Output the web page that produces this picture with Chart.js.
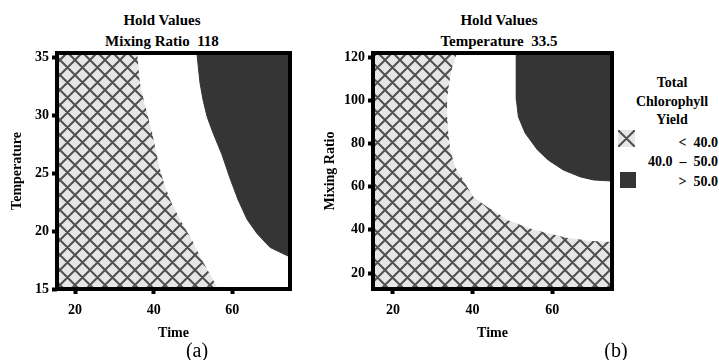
<!DOCTYPE html>
<html>
<head>
<meta charset="utf-8">
<title>Total Chlorophyll Yield - hold value contours</title>
<script src="https://cdn.jsdelivr.net/npm/chart.js@4.4.1/dist/chart.umd.min.js"></script>
<style>
  html, body { margin: 0; padding: 0; background: #fff; }
  body {
    position: relative; width: 719px; height: 360px; overflow: hidden;
    font-family: 'Liberation Serif', 'Times New Roman', serif; color: #000;
  }
  canvas { position: absolute; top: 0; }
  #chartA { left: 0; }
  #chartB { left: 310px; }
  .lbl {
    position: absolute; font-weight: bold; font-size: 14px; line-height: 16px;
    white-space: nowrap; transform: translate(-50%, -50%);
  }
  .head { font-size: 15px; }
  .legend { right: 1px; transform: translate(0, -50%); }
  .dash { margin: 0 7px; }
  .panel {
    position: absolute; font-size: 20px; line-height: 22px;
    white-space: nowrap; transform: translate(-50%, -50%);
  }
  #swatchLow { left: 618px; top: 130px; }
  #swatchHigh { position: absolute; left: 620px; top: 172px; width: 16px; height: 16px; background: #353535; }
</style>
</head>
<body>
<div class="lbl head" style="left:162px;top:20px">Hold Values</div>
<div class="lbl head" style="left:162px;top:41px">Mixing Ratio&nbsp; 118</div>
<div class="lbl head" style="left:499px;top:20px">Hold Values</div>
<div class="lbl head" style="left:499px;top:41px">Temperature&nbsp; 33.5</div>

<canvas id="chartA" width="300" height="345"></canvas>
<canvas id="chartB" width="305" height="345"></canvas>

<div class="lbl" style="left:672px;top:83px">Total</div>
<div class="lbl" style="left:672px;top:102px">Chlorophyll</div>
<div class="lbl" style="left:672px;top:120px">Yield</div>
<canvas id="swatchLow" width="17" height="17"></canvas>
<div class="lbl legend" style="top:143px">&lt;&nbsp; 40.0</div>
<div class="lbl legend" style="top:162px">40.0<span class="dash">&ndash;</span>50.0</div>
<div id="swatchHigh"></div>
<div class="lbl legend" style="top:182px">&gt;&nbsp; 50.0</div>

<div class="panel" style="left:197px;top:350px">(a)</div>
<div class="panel" style="left:616px;top:350px">(b)</div>

<script>
(function () {
    'use strict';

    // -----------------------------------------------------------------------
    // Data
    // -----------------------------------------------------------------------
    const TIME_TICKS = [20, 40, 60];
    const TEMP_TICKS = [15, 20, 25, 30, 35];
    const MIX_TICKS  = [20, 40, 60, 80, 100, 120];

    // (a) Mixing Ratio held at 118 -- edge of the "< 40.0" region
    const A_LOW_TIME = [15.4, 35.8, 36.5, 37.5, 39.6, 41.4, 42.4, 44.2, 46.7, 49.8, 52.3, 55.1, 56.4];
    const A_LOW_TEMP = [35.4, 35.4, 32.8, 31.3, 28.5, 25.6, 24.4, 22.7, 21.0, 19.2, 17.5, 15.8, 15.0];
    // (a) edge of the "> 50.0" region
    const A_HIGH_TIME = [51.0, 51.8, 52.6, 53.6, 55.1, 57.4, 59.4, 61.5, 63.8, 66.3, 69.6, 73.9, 74.7];
    const A_HIGH_TEMP = [35.4, 32.8, 31.3, 29.9, 28.5, 26.6, 24.6, 22.7, 21.0, 19.8, 18.6, 17.9, 17.8];

    // (b) Temperature held at 33.5 -- edge of the "< 40.0" region
    const B_LOW_TIME = [15.0, 36.1, 34.9, 34.1, 33.6, 33.6, 33.9, 34.4, 35.6, 37.6, 40.2, 43.7, 46.2, 48.7, 55.3, 63.8, 70.1, 75.0];
    const B_LOW_MIX  = [121.9, 121.9, 115.4, 108.0, 100.1, 92.3, 84.8, 77.0, 69.1, 63.1, 55.2, 50.6, 47.8, 44.6, 40.0, 36.2, 34.8, 34.4];
    // (b) edge of the "> 50.0" region
    const B_HIGH_TIME = [51.0, 51.0, 51.0, 51.5, 53.2, 56.3, 59.0, 62.8, 67.1, 70.4, 75.0];
    const B_HIGH_MIX  = [121.9, 108.0, 100.1, 92.3, 84.8, 77.0, 72.3, 67.7, 64.5, 63.1, 62.6];

    // -----------------------------------------------------------------------
    // Styling
    // -----------------------------------------------------------------------
    const HATCH_BG   = '#e6e6e6';
    const HATCH_LINE = '#505050';
    const HATCH_STEP = 15;
    const DARK       = '#353535';
    const CANVAS_H   = 345;
    const PLOT_TOP   = 53;
    const PLOT_BOTTOM = 289;

    Chart.defaults.font.family = "'Liberation Serif', 'Times New Roman', serif";
    Chart.defaults.font.size = 14;
    Chart.defaults.font.weight = 'bold';
    Chart.defaults.color = '#000';

    function drawHatch(g, w, h, step) {
        g.fillStyle = HATCH_BG;
        g.fillRect(0, 0, w, h);
        g.strokeStyle = HATCH_LINE;
        g.lineWidth = 2;
        g.beginPath();
        for (let k = -2; k <= Math.ceil(w / step) + 1; k++) {
            g.moveTo(k * step, 0);     g.lineTo(k * step + h, h);
            g.moveTo(k * step + h, 0); g.lineTo(k * step, h);
        }
        g.stroke();
    }

    function hatchPattern() {
        const c = document.createElement('canvas');
        c.width = HATCH_STEP; c.height = HATCH_STEP;
        const g = c.getContext('2d');
        drawHatch(g, HATCH_STEP, HATCH_STEP, HATCH_STEP);
        return g.createPattern(c, 'repeat');
    }

    const HATCH = hatchPattern();

    // thick black frame round the plot area
    const framePlugin = {
        id: 'frame',
        afterDatasetsDraw(chart) {
            const a = chart.chartArea;
            const ctx = chart.ctx;
            ctx.save();
            ctx.lineWidth = 4;
            ctx.strokeStyle = '#000';
            ctx.strokeRect(a.left, a.top, a.right - a.left, a.bottom - a.top);
            ctx.restore();
        }
    };

    function points(xs, ys) {
        return xs.map(function (x, i) { return { x: x, y: ys[i] }; });
    }

    const tickGrid = {
        drawOnChartArea: false, drawTicks: true,
        tickLength: 5, tickWidth: 4, tickColor: '#000'
    };

    function contourChart(id, spec) {
        return new Chart(document.getElementById(id), {
            type: 'line',
            data: {
                datasets: [
                    {
                        label: '< 40.0',
                        data: points(spec.lowX, spec.lowY),
                        fill: 'start',
                        backgroundColor: HATCH,
                        borderColor: 'rgba(0,0,0,0)',
                        borderWidth: 0,
                        pointRadius: 0
                    },
                    {
                        label: '> 50.0',
                        data: points(spec.highX, spec.highY),
                        fill: 'end',
                        backgroundColor: DARK,
                        borderColor: DARK,
                        borderWidth: 1,
                        pointRadius: 0
                    }
                ]
            },
            options: {
                responsive: false,
                animation: false,
                events: [],
                layout: { padding: { top: PLOT_TOP, right: spec.padRight, left: 0, bottom: 0 } },
                plugins: { legend: { display: false }, tooltip: { enabled: false } },
                scales: {
                    x: {
                        type: 'linear',
                        min: spec.xMin, max: spec.xMax,
                        afterBuildTicks: function (s) { s.ticks = TIME_TICKS.map(function (v) { return { value: v }; }); },
                        afterFit: function (s) { s.height = CANVAS_H - PLOT_BOTTOM; },
                        grid: tickGrid,
                        border: { display: false },
                        ticks: { padding: 8, maxRotation: 0 },
                        title: { display: true, text: 'Time', padding: { top: 0, bottom: 3 } }
                    },
                    y: {
                        type: 'linear',
                        min: spec.yMin, max: spec.yMax,
                        afterBuildTicks: function (s) { s.ticks = spec.yTicks.map(function (v) { return { value: v }; }); },
                        afterFit: function (s) { s.width = spec.yWidth; },
                        grid: tickGrid,
                        border: { display: false },
                        ticks: { padding: 3 },
                        title: { display: true, text: spec.yTitle, padding: { top: spec.yTitlePad, bottom: 0 } }
                    }
                }
            },
            plugins: [framePlugin]
        });
    }

    // -----------------------------------------------------------------------
    // Charts
    // -----------------------------------------------------------------------
    contourChart('chartA', {
        lowX: A_LOW_TIME, lowY: A_LOW_TEMP,
        highX: A_HIGH_TIME, highY: A_HIGH_TEMP,
        xMin: 15.4, xMax: 74.7, yMin: 15, yMax: 35.4,
        yTicks: TEMP_TICKS, yTitle: 'Temperature',
        yWidth: 57, yTitlePad: 9, padRight: 10
    });

    contourChart('chartB', {
        lowX: B_LOW_TIME, lowY: B_LOW_MIX,
        highX: B_HIGH_TIME, highY: B_HIGH_MIX,
        xMin: 15, xMax: 75, yMin: 12.6, yMax: 121.9,
        yTicks: MIX_TICKS, yTitle: 'Mixing Ratio',
        yWidth: 63, yTitlePad: 12, padRight: 3
    });

    // legend swatch for the hatched class
    const sw = document.getElementById('swatchLow');
    drawHatch(sw.getContext('2d'), 17, 17, 17);
})();
</script>
</body>
</html>
